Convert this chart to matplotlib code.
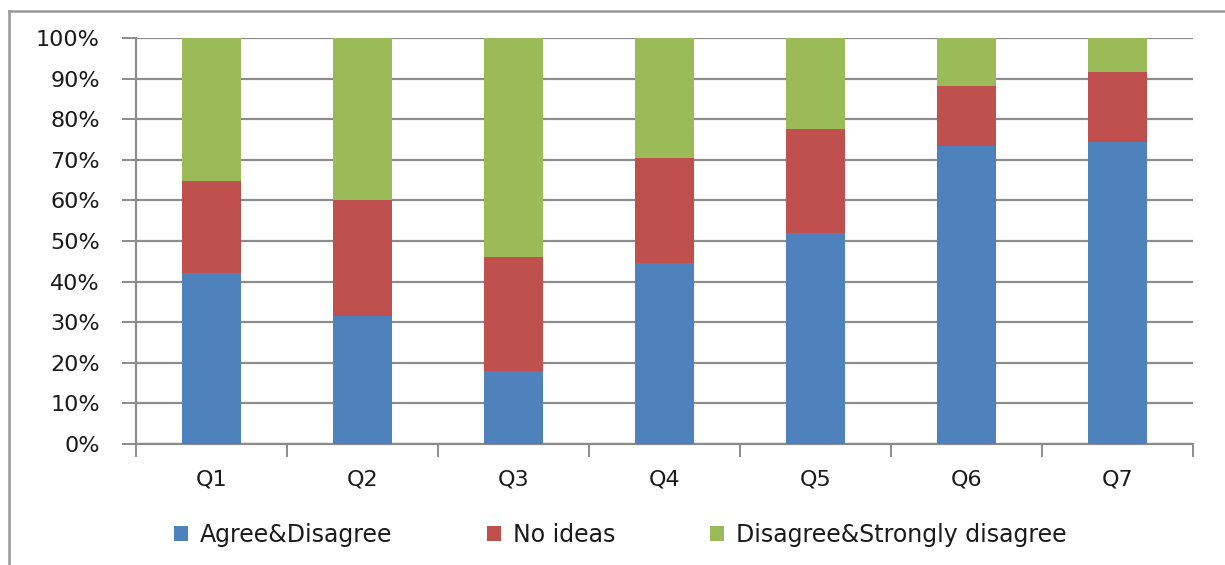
#!/usr/bin/env python3
# stacked percentage bars, Q1..Q7

import matplotlib
matplotlib.use("Agg")
import matplotlib.pyplot as plt
from matplotlib.lines import Line2D
import numpy as np

questions = ["Q1", "Q2", "Q3", "Q4", "Q5", "Q6", "Q7"]
agree     = [42.0, 31.5, 18.0, 44.5, 52.0, 73.3, 74.3]
no_ideas  = [22.8, 28.5, 28.0, 26.0, 25.7, 15.0, 17.3]
disagree  = [35.2, 40.0, 54.0, 29.5, 22.3, 11.7, 8.4]
series_names = ["Agree&Disagree", "No ideas", "Disagree&Strongly disagree"]
ytick_vals = list(range(0, 101, 10))

colors = ["#4F81BD", "#C0504D", "#9BBB59"]
grid_col = "#8C8C8C"

W, H = 1225, 565
fig = plt.figure(figsize=(W / 100, H / 100), dpi=100)
ax = fig.add_axes([136 / W, 1 - 444 / H, (1193 - 136) / W, (444 - 38) / H])

x = np.arange(len(questions))
bottom = np.zeros(len(questions))
for vals, c, name in zip([agree, no_ideas, disagree], colors, series_names):
    ax.bar(x, vals, width=0.385, bottom=bottom, color=c, label=name, zorder=3)
    bottom += np.array(vals)

ax.set_xlim(-0.5, len(questions) - 0.5)
ax.set_ylim(0, 100)
ax.set_yticks(ytick_vals)
ax.set_yticklabels(["{}%".format(v) for v in ytick_vals])
ax.yaxis.grid(True, color=grid_col, linewidth=1.6, zorder=0)
ax.set_axisbelow(True)

# category labels at centres, tick marks at boundaries
ax.set_xticks(x)
ax.set_xticklabels(questions)
ax.set_xticks(np.arange(-0.5, len(questions)), minor=True)
ax.tick_params(axis="x", which="major", length=0, pad=18, labelsize=16, labelcolor="#1a1a1a")
ax.tick_params(axis="x", which="minor", length=9, width=1.4, color=grid_col)
ax.tick_params(axis="y", length=10, width=1.4, color=grid_col, pad=16, labelsize=16,
               labelcolor="#1a1a1a")

for s in ["top", "right"]:
    ax.spines[s].set_visible(False)
for s in ["left", "bottom"]:
    ax.spines[s].set_color(grid_col)
    ax.spines[s].set_linewidth(1.6)

# legend
handles, labels = ax.get_legend_handles_labels()
fig.legend(handles, labels, loc="center", bbox_to_anchor=(620 / W, 1 - 535 / H), ncol=3,
           frameon=False, fontsize=17, handlelength=0.6, handleheight=0.6,
           handletextpad=0.5, columnspacing=4.0, labelcolor="#1a1a1a")

# outer chart border (top and left only visible)
fig.add_artist(Line2D([9 / W, 1.0], [1 - 11 / H, 1 - 11 / H], transform=fig.transFigure,
                      color="#999999", linewidth=1.8))
fig.add_artist(Line2D([9 / W, 9 / W], [0.0, 1 - 11 / H], transform=fig.transFigure,
                      color="#999999", linewidth=1.8))

plt.savefig("out.png", dpi=100)
